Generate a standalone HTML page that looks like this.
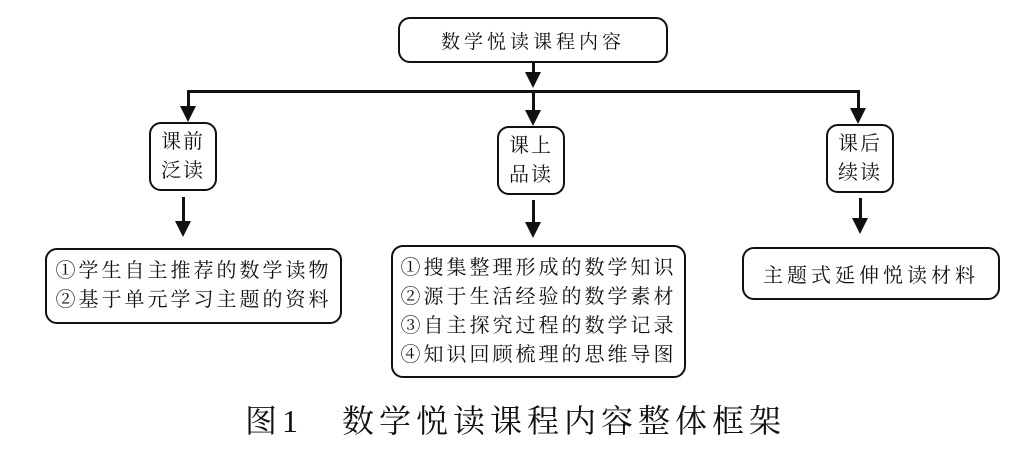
<!DOCTYPE html>
<html><head><meta charset="utf-8"><style>
body{margin:0;width:1033px;height:450px;background:#fff;position:relative;overflow:hidden;font-family:"Liberation Serif","Noto Serif CJK SC",serif;color:#111}
.b{position:absolute;border:2.5px solid #111;border-radius:12px;box-sizing:border-box;display:flex;align-items:center;justify-content:center;text-align:center}
.l{position:absolute;background:#111}
.a{position:absolute;width:0;height:0;border-left:8px solid transparent;border-right:8px solid transparent;border-top:16px solid #111}
</style></head><body>
<div class="b" style="left:398px;top:17px;width:270px;height:46px;font-size:19px;letter-spacing:4px">数学悦读课程内容</div>
<div class="l" style="left:532px;top:62px;width:3px;height:14px"></div>
<div class="a" style="left:525px;top:72px"></div>
<div class="l" style="left:187px;top:90px;width:673px;height:3px"></div>
<div class="l" style="left:187px;top:90px;width:3px;height:18px"></div>
<div class="a" style="left:180px;top:106px"></div>
<div class="l" style="left:532px;top:90px;width:3px;height:22px"></div>
<div class="a" style="left:525px;top:110px"></div>
<div class="l" style="left:857px;top:90px;width:3px;height:20px"></div>
<div class="a" style="left:850px;top:108px"></div>

<div class="b" style="left:149px;top:122px;width:68px;height:69px;font-size:20px;line-height:29px;letter-spacing:2px">课前<br>泛读</div>
<div class="b" style="left:497px;top:126px;width:68px;height:69px;font-size:20px;line-height:29px;letter-spacing:2px">课上<br>品读</div>
<div class="b" style="left:826px;top:124px;width:68px;height:69px;font-size:20px;line-height:29px;letter-spacing:2px">课后<br>续读</div>

<div class="l" style="left:182px;top:197px;width:3px;height:26px"></div>
<div class="a" style="left:175px;top:221px"></div>
<div class="l" style="left:532px;top:200px;width:3px;height:24px"></div>
<div class="a" style="left:525px;top:222px"></div>
<div class="l" style="left:859px;top:198px;width:3px;height:22px"></div>
<div class="a" style="left:852px;top:218px"></div>

<div class="b" style="left:45px;top:248px;width:297px;height:76px;font-size:20px;line-height:29px;letter-spacing:3px">①学生自主推荐的数学读物<br>②基于单元学习主题的资料</div>
<div class="b" style="left:391px;top:245px;width:295px;height:133px;font-size:20px;line-height:29px;letter-spacing:3px">①搜集整理形成的数学知识<br>②源于生活经验的数学素材<br>③自主探究过程的数学记录<br>④知识回顾梳理的思维导图</div>
<div class="b" style="left:742px;top:247px;width:258px;height:53px;font-size:20px;letter-spacing:4px">主题式延伸悦读材料</div>

<div style="position:absolute;left:245px;top:396px;font-size:32px;white-space:nowrap;letter-spacing:5px">图1&nbsp;&nbsp;&nbsp;数学悦读课程内容整体框架</div>
</body></html>
